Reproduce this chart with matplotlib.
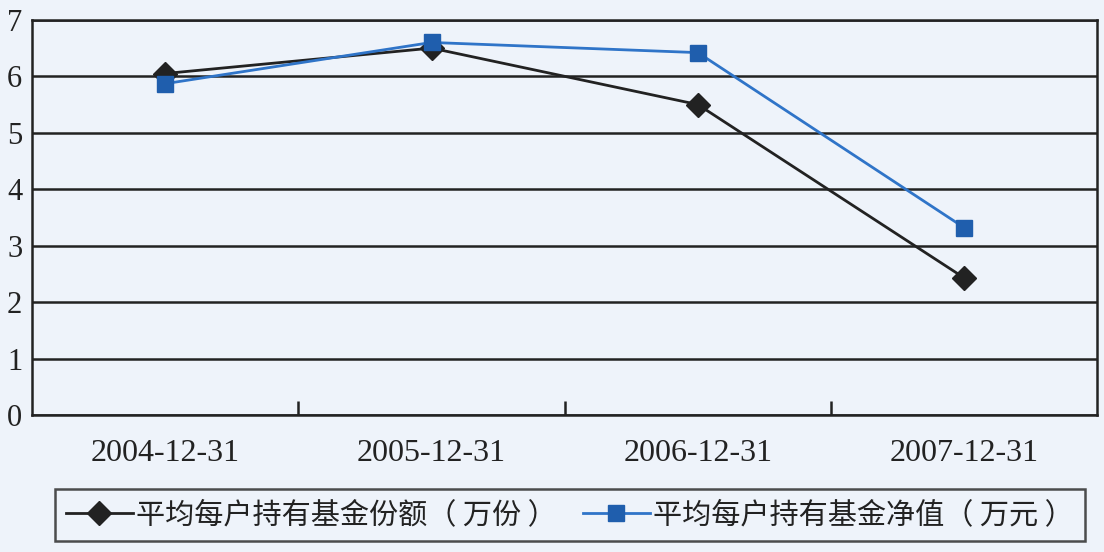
import matplotlib.pyplot as plt
import numpy as np

plt.rcParams['font.family'] = ['Liberation Serif', 'Noto Sans CJK SC', 'DejaVu Sans']

dates = ['2004-12-31', '2005-12-31', '2006-12-31', '2007-12-31']
fund_shares = [6.05, 6.50, 5.50, 2.43]   # 平均每户持有基金份额（万份）
fund_nav = [5.87, 6.60, 6.42, 3.32]      # 平均每户持有基金净值（万元）
label_shares = '平均每户持有基金份额（ 万份 ）'
label_nav = '平均每户持有基金净值（ 万元 ）'
y_ticks = [0, 1, 2, 3, 4, 5, 6, 7]

BG = '#eef3fa'
INK = '#222222'
BLUE_LINE = '#2f74c8'
BLUE_MARK = '#1f5ead'

fig = plt.figure(figsize=(11.04, 5.52), dpi=100, facecolor=BG)
ax = fig.add_axes([0.029, 0.248, 0.965, 0.716])
ax.set_facecolor(BG)

x = np.arange(len(dates))
ax.plot(x, fund_shares, color=INK, lw=2.0, marker='D', ms=12,
        mfc=INK, mec=INK, label=label_shares, zorder=3)
ax.plot(x, fund_nav, color=BLUE_LINE, lw=2.0, marker='s', ms=11,
        mfc=BLUE_MARK, mec=BLUE_MARK, label=label_nav, zorder=4)

ax.set_xlim(-0.5, 3.5)
ax.set_ylim(0, 7)
ax.set_yticks(y_ticks)
ax.set_yticklabels([str(v) for v in y_ticks], fontsize=22, color=INK)
ax.tick_params(axis='y', length=0, pad=7)

# category boundaries get small inward ticks, labels sit between them
ax.set_xticks([0.5, 1.5, 2.5])
ax.set_xticklabels([])
ax.tick_params(axis='x', which='major', direction='in', length=10, width=1.8, color=INK)
ax.set_xticks(x, minor=True)
ax.set_xticklabels(dates, minor=True, fontsize=23, color=INK)
ax.tick_params(axis='x', which='minor', length=0, pad=17)

ax.grid(axis='y', color=INK, lw=1.8)
ax.set_axisbelow(True)
for side in ['left', 'right', 'bottom', 'top']:
    ax.spines[side].set_color(INK)
    ax.spines[side].set_linewidth(1.8)

leg = fig.legend(loc='center', bbox_to_anchor=(0.516, 0.067), ncol=2,
                 prop={'family': ['Noto Sans CJK SC'], 'size': 21},
                 frameon=True, fancybox=False, borderpad=0.38,
                 handlelength=2.3, handletextpad=0.1, columnspacing=0.9,
                 borderaxespad=0)
leg.get_frame().set_edgecolor(INK)
leg.get_frame().set_linewidth(1.8)
leg.get_frame().set_facecolor(BG)
for t in leg.get_texts():
    t.set_color(INK)

fig.savefig('out.png', dpi=100, facecolor=BG)
